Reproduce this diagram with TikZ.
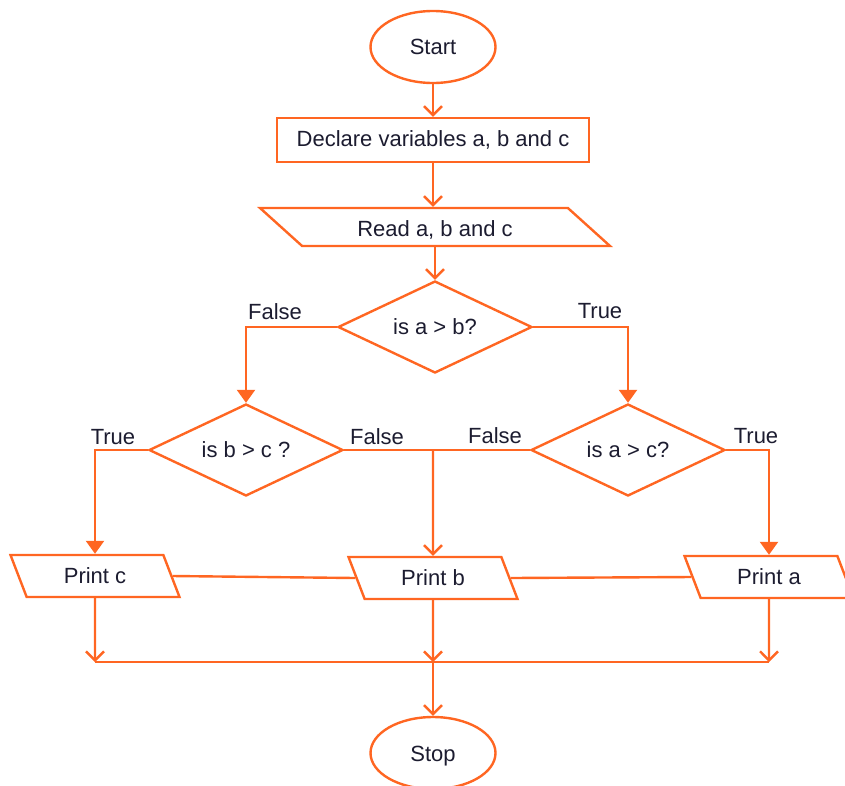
\documentclass[tikz,border=0pt]{standalone}
\usepackage{fontspec}
\setmainfont{Liberation Sans}
\usetikzlibrary{shapes.geometric,arrows.meta}
\definecolor{fc}{HTML}{FF6622}
\definecolor{tc}{HTML}{1C1C30}
\newcommand{\lowertxt}[2]{\raisebox{-#1}[\height][\depth]{#2}}
\begin{document}
\begin{tikzpicture}[x=1pt,y=-1pt,
  every node/.style={text=tc, font=\fontsize{22}{26}\selectfont},
  box/.style={draw=fc, line width=2.4pt, fill=white, inner sep=0pt},
  term/.style={box, ellipse, minimum width=125pt, minimum height=72pt},
  proc/.style={box, rectangle, minimum width=312pt, minimum height=44pt},
  io/.style={box, trapezium, trapezium stretches body},
  dec/.style={box, diamond, aspect=2.1, minimum width=194pt, minimum height=92pt},
  conn/.style={draw=fc, line width=2.4pt},
  openarr/.style={conn, -{Straight Barb[length=9pt,width=18pt]}},
  fillarr/.style={conn, -{Triangle[length=13pt,width=18pt]}},
  lbl/.style={inner sep=0pt}
]
\useasboundingbox (0,0) rectangle (845,785);

\node[term] (start) at (433,47) {Start};
\node[proc] (decl) at (433,140) {Declare variables a, b and c};
\node[io, trapezium left angle=156, trapezium right angle=24,
      minimum width=350pt, minimum height=38pt] (read) at (435,227) {\lowertxt{3pt}{Read a, b and c}};
\node[dec] (ab) at (435,327) {is a > b?};
\node[dec] (bc) at (246,450) {is b > c ?};
\node[dec] (ac) at (628,450) {is a > c?};
\node[io, trapezium left angle=135, trapezium right angle=45,
      minimum width=169pt, minimum height=42pt] (pc) at (95,576) {Print c};
\node[io, trapezium left angle=135, trapezium right angle=45,
      minimum width=169pt, minimum height=42pt] (pb) at (433,578) {Print b};
\node[io, trapezium left angle=135, trapezium right angle=45,
      minimum width=169pt, minimum height=42pt] (pa) at (769,577) {Print a};
\node[term] (stop) at (433,753) {\lowertxt{3pt}{Stop}};

\coordinate (j) at (433,450);
\coordinate (m1) at (95,662);
\coordinate (m2) at (433,662);
\coordinate (m3) at (769,662);

\draw[openarr] (start) -- (decl);
\draw[openarr] (decl) -- (decl |- read.north);
\draw[openarr] (read.south -| ab.north) -- (ab.north);
\draw[fillarr] (ab.west) -| (bc.north);
\draw[fillarr] (ab.east) -| (ac.north);
\draw[fillarr] (bc.west) -| (pc.north);
\draw[conn] (bc.east) -- (j);
\draw[conn] (ac.west) -- (j);
\draw[openarr] (j) -- (pb.north);
\draw[fillarr] (ac.east) -| (pa.north);
\draw[conn] (pc.right side) -- (pb.left side);
\draw[conn] (pb.right side) -- (pa.left side);
\draw[openarr] (pc.south) -- (m1);
\draw[openarr] (pb.south) -- (m2);
\draw[openarr] (pa.south) -- (m3);
\draw[conn] (m1) -- (m3);
\draw[openarr] (m2) -- (stop);

\node[lbl] (l1) at (275,312) {False};
\node[lbl] (l2) at (600,311) {True};
\node[lbl] (l3) at (113,437) {True};
\node[lbl] (l4) at (377,437) {False};
\node[lbl] (l5) at (495,436) {False};
\node[lbl] (l6) at (756,436) {True};
\end{tikzpicture}
\end{document}
